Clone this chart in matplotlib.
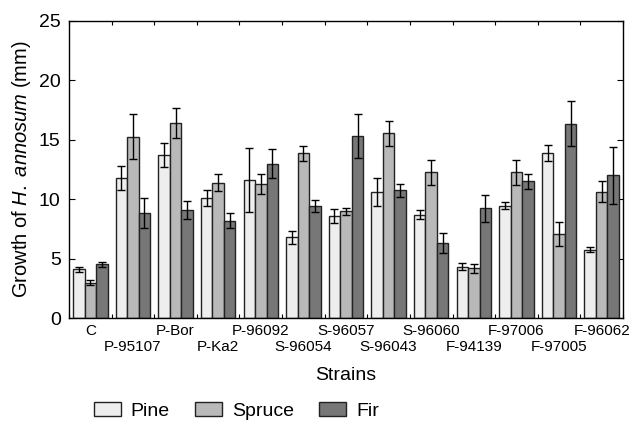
import matplotlib
matplotlib.use("Agg")
import matplotlib.pyplot as plt
import numpy as np

plt.rcParams['font.family'] = ['Liberation Sans', 'DejaVu Sans']
plt.rcParams['mathtext.fontset'] = 'custom'
plt.rcParams['mathtext.rm'] = 'Liberation Sans'
plt.rcParams['mathtext.it'] = 'Liberation Sans:italic'

strains = ["C", "P-95107", "P-Bor", "P-Ka2", "P-96092", "S-96054", "S-96057",
           "S-96043", "S-96060", "F-94139", "F-97006", "F-97005", "F-96062"]
pine = [4.1, 11.8, 13.7, 10.1, 11.6, 6.8, 8.6, 10.6, 8.7, 4.35, 9.45, 13.9, 5.75]
pine_err = [0.22, 1.03, 1.03, 0.64, 2.7, 0.52, 0.6, 1.2, 0.4, 0.28, 0.29, 0.66, 0.2]
spruce = [3.0, 15.25, 16.4, 11.4, 11.25, 13.85, 9.0, 15.55, 12.25, 4.2, 12.25, 7.05, 10.65]
spruce_err = [0.2, 1.9, 1.29, 0.7, 0.83, 0.62, 0.3, 1.06, 1.06, 0.38, 1.09, 1.0, 0.9]
fir = [4.55, 8.85, 9.1, 8.2, 13.0, 9.4, 15.3, 10.75, 6.35, 9.25, 11.5, 16.35, 12.0]
fir_err = [0.2, 1.28, 0.78, 0.63, 1.25, 0.5, 1.85, 0.56, 0.85, 1.12, 0.63, 1.9, 2.37]

fig = plt.figure(figsize=(6.32, 4.26), dpi=100)
ax = fig.add_axes([69/632, 1-318.3/426, (623-69)/632, (318.3-20.7)/426])

n = len(strains)
x = np.arange(n) + 0.5
w = 0.27
series = [(pine, pine_err, '#eeeeee', 'Pine'),
          (spruce, spruce_err, '#b9b9b9', 'Spruce'),
          (fir, fir_err, '#777777', 'Fir')]
handles = []
for i, (vals, errs, col, lab) in enumerate(series):
    h = ax.bar(x + (i-1)*w, vals, width=w, color=col, edgecolor='#222222',
               linewidth=1.0, label=lab, zorder=2)
    ax.errorbar(x + (i-1)*w, vals, yerr=errs, fmt='none', ecolor='black',
                elinewidth=1.0, capsize=3, capthick=1.0, zorder=3)
    handles.append(h)

ax.set_xlim(0, n)
ax.set_ylim(0, 25)
ax.set_yticks([0, 5, 10, 15, 20, 25])
ax.set_xticks(np.arange(0, n+1))
ax.set_xticklabels([])
ax.set_xticks(x, minor=True)
ax.set_xticklabels([s if i % 2 == 0 else "\n" + s for i, s in enumerate(strains)],
                   minor=True, fontsize=11, linespacing=1.15)
ax.tick_params(axis='x', which='minor', length=0, pad=4)
ax.tick_params(axis='x', which='major', direction='in', length=3, top=True, width=0.8)
ax.tick_params(axis='y', direction='in', length=4, right=True, labelsize=14, width=0.8, pad=6)
for sp in ax.spines.values():
    sp.set_linewidth(1.0)

ax.set_ylabel("Growth of $H.\\ annosum$ (mm)", fontsize=14.5, labelpad=4)
ax.set_xlabel("Strains", fontsize=14, labelpad=10)

fig.legend(handles=handles, labels=['Pine', 'Spruce', 'Fir'], loc='center left',
           bbox_to_anchor=(76/632, 1-411/426), ncol=3, frameon=False,
           fontsize=14, handlelength=1.4, handleheight=0.7, handletextpad=0.5,
           columnspacing=1.3)

fig.savefig("out.png", dpi=100)
